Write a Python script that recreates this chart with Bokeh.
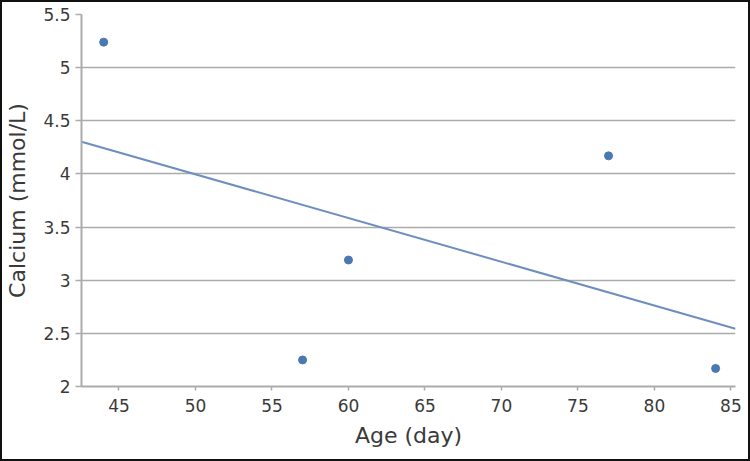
import numpy as np
from bokeh.plotting import figure
from bokeh.models import FixedTicker, Range1d
from bokeh.embed import file_html
from bokeh.resources import INLINE

# Measurements: age in days vs. serum calcium
age_day = [44, 57, 60, 77, 84]
calcium_mmol = [5.24, 2.25, 3.19, 4.17, 2.17]

x_ticks = [45, 50, 55, 60, 65, 70, 75, 80, 85]
y_ticks = [2, 2.5, 3, 3.5, 4, 4.5, 5, 5.5]
y_tick_labels = ["2", "2.5", "3", "3.5", "4", "4.5", "5", "5.5"]

x_lo, x_hi = 42.55, 85.3
y_lo, y_hi = 2.0, 5.5

FONT = "DejaVu Sans"
TEXT = "#3a3a3a"
GRID = "#ababab"
BLUE = "#4a78b0"
LINE = "#6e8fbd"

p = figure(
    width=750, height=461,
    x_range=Range1d(x_lo, x_hi), y_range=Range1d(y_lo, y_hi),
    output_backend="svg", toolbar_location=None,
    min_border_left=79, min_border_right=17,
    min_border_top=12, min_border_bottom=77,
)
p.styles = {"border": "2px solid #111111", "box-sizing": "border-box"}
p.outline_line_color = None
p.background_fill_color = "white"
p.border_fill_color = "white"

# least-squares trend line across the visible x span
slope, intercept = np.polyfit(age_day, calcium_mmol, 1)
fit_x = [x_lo, x_hi]
fit_y = [slope * v + intercept for v in fit_x]
p.line(fit_x, fit_y, line_color=LINE, line_width=2)

p.scatter(age_day, calcium_mmol, size=8, fill_color=BLUE, line_color=BLUE)

# grid
p.xgrid.grid_line_color = None
p.ygrid.ticker = FixedTicker(ticks=y_ticks)
p.ygrid.grid_line_color = GRID
p.ygrid.grid_line_width = 1.5

# x axis
p.xaxis.ticker = FixedTicker(ticks=x_ticks)
p.xaxis.axis_label = "Age (day)"
p.xaxis.minor_tick_line_color = None
p.xaxis.major_tick_in = 0
p.xaxis.major_tick_out = 4
p.xaxis.major_label_standoff = 8
p.xaxis.axis_label_standoff = 8

# y axis
p.yaxis.ticker = FixedTicker(ticks=y_ticks)
p.yaxis.major_label_overrides = {t: s for t, s in zip(y_ticks, y_tick_labels)}
p.yaxis.axis_label = "Calcium (mmol/L)"
p.yaxis.minor_tick_line_color = None
p.yaxis.major_tick_in = 0
p.yaxis.major_tick_out = 6
p.yaxis.major_label_standoff = 5
p.yaxis.axis_label_standoff = 10

for ax in (p.xaxis, p.yaxis):
    ax.axis_line_color = GRID
    ax.axis_line_width = 2
    ax.major_tick_line_color = GRID
    ax.major_tick_line_width = 1.5
    ax.major_label_text_font = FONT
    ax.major_label_text_font_size = "17px"
    ax.major_label_text_color = TEXT
    ax.axis_label_text_font = FONT
    ax.axis_label_text_font_size = "22px"
    ax.axis_label_text_font_style = "normal"
    ax.axis_label_text_color = TEXT

open("out.html", "w").write(file_html(p, INLINE))
